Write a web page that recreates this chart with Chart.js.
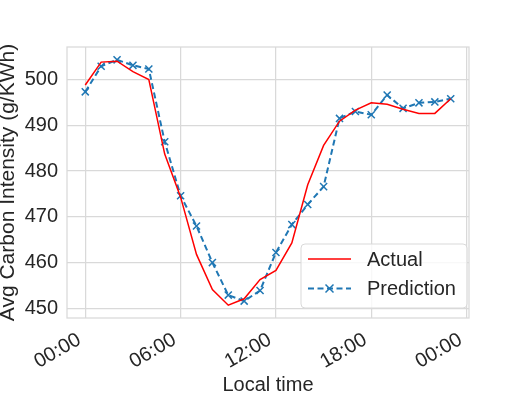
<!DOCTYPE html>
<html>
<head>
<meta charset="utf-8">
<script src="https://cdn.jsdelivr.net/npm/chart.js@4.4.1/dist/chart.umd.min.js"></script>
<style>
  html, body { margin: 0; padding: 0; background: #fff; }
  #wrap { position: relative; width: 531px; height: 399px; }
</style>
</head>
<body>
<div id="wrap"><canvas id="carbonChart" width="531" height="399"></canvas></div>
<script>
// Data
const hours = [0, 1, 2, 3, 4, 5, 6, 7, 8, 9, 10, 11, 12, 13, 14, 15, 16, 17, 18, 19, 20, 21, 22, 23];
const actual = [498.8, 503.8, 504.0, 501.7, 500.0, 483.7, 474.3, 461.8, 454.1, 450.7, 452.1, 456.3,
                458.3, 464.3, 477.0, 485.6, 490.9, 493.3, 494.9, 494.6, 493.5, 492.6, 492.6, 495.8];
const prediction = [497.3, 502.9, 504.3, 503.1, 502.3, 486.4, 474.6, 468.0, 460.0, 452.9, 451.6, 453.9,
                    462.2, 468.3, 472.7, 476.6, 491.5, 493.0, 492.3, 496.6, 493.7, 494.9, 495.1, 495.8];
const xTicks = [0, 6, 12, 18, 24];
const xTickLabels = ['00:00', '06:00', '12:00', '18:00', '00:00'];
const yTicks = [450, 460, 470, 480, 490, 500];

const FONT = "'Liberation Sans', Arial, sans-serif";
const GRID = '#d9d9d9';
const TEXT = '#262626';

const ctx = document.getElementById('carbonChart').getContext('2d');

// Frame around plot area (matplotlib style spines)
const framePlugin = {
    id: 'frame',
    beforeDatasetsDraw(chart) {
        const a = chart.chartArea;
        const c = chart.ctx;
        c.save();
        c.strokeStyle = GRID;
        c.lineWidth = 1.25;
        c.strokeRect(a.left, a.top, a.right - a.left, a.bottom - a.top);
        c.restore();
    }
};

// Legend box in the lower right of the plot
const legendBoxPlugin = {
    id: 'legendBox',
    afterDatasetsDraw(chart) {
        const a = chart.chartArea;
        const c = chart.ctx;
        const w = 166, h = 64;
        const x = a.right - 2 - w, y = a.bottom - 10 - h;
        c.save();
        c.beginPath();
        c.roundRect(x, y, w, h, 4);
        c.fillStyle = 'rgba(255,255,255,0.8)';
        c.fill();
        c.strokeStyle = GRID;
        c.lineWidth = 1;
        c.stroke();

        c.font = '20px ' + FONT;
        c.fillStyle = TEXT;
        c.textBaseline = 'middle';
        chart.data.datasets.forEach((ds, i) => {
            const ly = y + 15 + i * 29.5;
            c.beginPath();
            c.setLineDash(ds.borderDash || []);
            c.strokeStyle = ds.borderColor;
            c.lineWidth = ds.borderWidth;
            c.moveTo(x + 7, ly);
            c.lineTo(x + 50, ly);
            c.stroke();
            c.setLineDash([]);
            if (ds.pointRadius > 0) {
                const mx = x + 28.5, r = ds.pointRadius * 0.8;
                c.lineWidth = ds.pointBorderWidth;
                c.beginPath();
                c.moveTo(mx - r, ly - r); c.lineTo(mx + r, ly + r);
                c.moveTo(mx - r, ly + r); c.lineTo(mx + r, ly - r);
                c.stroke();
            }
            c.fillText(ds.label, x + 66, ly + 1);
        });
        c.restore();
    }
};

new Chart(ctx, {
    type: 'line',
    data: {
        datasets: [{
            label: 'Actual',
            data: hours.map((hr, i) => ({ x: hr, y: actual[i] })),
            borderColor: '#ff0000',
            borderWidth: 1.5,
            pointRadius: 0,
            tension: 0,
            fill: false
        }, {
            label: 'Prediction',
            data: hours.map((hr, i) => ({ x: hr, y: prediction[i] })),
            borderColor: '#1f77b4',
            borderWidth: 2,
            borderDash: [6, 3.5],
            pointStyle: 'crossRot',
            pointRadius: 5,
            pointBorderWidth: 1.5,
            pointBorderColor: '#1f77b4',
            tension: 0,
            fill: false
        }]
    },
    options: {
        responsive: false,
        animation: false,
        events: [],
        layout: { padding: { left: 0, top: 47, right: 62, bottom: 0 } },
        plugins: {
            legend: { display: false },
            tooltip: { enabled: false }
        },
        scales: {
            x: {
                type: 'linear',
                min: -1.15,
                max: 24.15,
                afterBuildTicks: (scale) => { scale.ticks = xTicks.map(v => ({ value: v })); },
                afterFit: (scale) => { scale.height = 81; },
                grid: { color: GRID, lineWidth: 1.25, drawTicks: false },
                border: { display: false },
                ticks: {
                    autoSkip: false,
                    maxRotation: 30,
                    minRotation: 30,
                    padding: 10,
                    labelOffset: -6,
                    color: TEXT,
                    font: { family: FONT, size: 20 },
                    callback: (v) => xTickLabels[xTicks.indexOf(v)]
                },
                title: {
                    display: true,
                    text: 'Local time',
                    color: TEXT,
                    padding: { top: 2, bottom: 2 },
                    font: { family: FONT, size: 20 }
                }
            },
            y: {
                min: 447.9,
                max: 507.1,
                afterBuildTicks: (scale) => { scale.ticks = yTicks.map(v => ({ value: v })); },
                afterFit: (scale) => { scale.width = 67; },
                grid: { color: GRID, lineWidth: 1.25, drawTicks: false },
                border: { display: false },
                ticks: {
                    padding: 9,
                    color: TEXT,
                    font: { family: FONT, size: 20 }
                },
                title: {
                    display: true,
                    text: 'Avg Carbon Intensity (g/KWh)',
                    color: TEXT,
                    padding: 0,
                    font: { family: FONT, size: 21, lineHeight: 0.8 }
                }
            }
        }
    },
    plugins: [framePlugin, legendBoxPlugin]
});
</script>
</body>
</html>
